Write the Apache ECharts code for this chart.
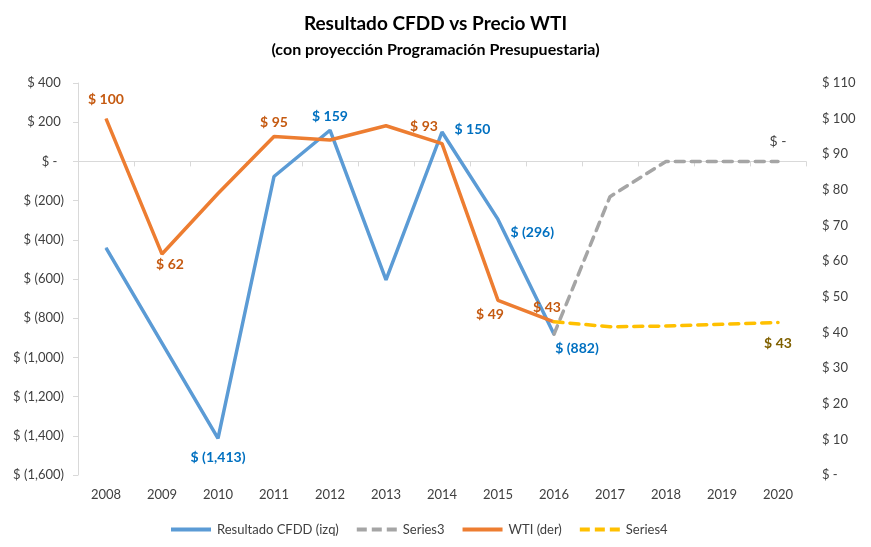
<!DOCTYPE html>
<html><head><meta charset="utf-8">
<script src="https://cdn.jsdelivr.net/npm/echarts@6/dist/echarts.min.js"></script>
<style>html,body{margin:0;padding:0;background:#fff}#c{width:871px;height:547px}</style>
</head><body><div id="c"></div>
<script>
var years = ['2008','2009','2010','2011','2012','2013','2014','2015','2016','2017','2018','2019','2020'];
var resultadoCFDD = [-441, -927, -1413, -77, 159, -604, 150, -296, -882, null, null, null, null];
var series3 = [null, null, null, null, null, null, null, null, -882, -180, 0, 0, 0];
var wti = [100, 62, 79, 95, 94, 98, 93, 49, 43, null, null, null, null];
var series4 = [null, null, null, null, null, null, null, null, 43, 41.6, 41.8, 42.3, 42.8];
var leftTicks = {min: -1600, max: 400, interval: 200};
var rightTicks = {min: 0, max: 110, interval: 10};

var FONT = 'Lato';
function fmtNum(v) { return Math.abs(Math.round(v)).toString().replace(/\B(?=(\d{3})+(?!\d))/g, ','); }
function acct(v) {
  if (v === 0) return '$ -  ';
  return v < 0 ? '$ (' + fmtNum(v) + ')' : '$ ' + fmtNum(v) + ' ';
}
function acctR(v) { return v === 0 ? '$ -' : '$ ' + v; }
function lbl(v) { if (v === 0) return '$ -'; return v < 0 ? '$ (' + fmtNum(v) + ')' : '$ ' + fmtNum(v); }

// label placement (style only)
var blueLabels = {2: {position: 'bottom', distance: 12}, 4: {position: 'top', distance: 6}, 6: {position: 'right', distance: 12, offset: [0, -3]}, 7: {position: 'right', distance: 12, offset: [0, 13]}, 8: {position: 'bottom', distance: 7, offset: [23, 0]}};
var orangeLabels = {0: {position: 'top', distance: 12}, 1: {position: 'bottom', distance: 3, offset: [8, 0]}, 3: {position: 'top', distance: 6}, 6: {position: 'top', distance: 10, offset: [-18, 0]}, 7: {position: 'bottom', distance: 7, offset: [-8, 0]}, 8: {position: 'top', distance: 7, offset: [-7, 0]}};
var greyLabels = {12: {position: 'top', distance: 12, fontWeight: 'normal'}};
var yellowLabels = {12: {position: 'bottom', distance: 14}};

function build(vals, labels, color) {
  return vals.map(function (v, i) {
    var l = labels[i];
    if (!l || v === null) return v;
    return {value: v, label: Object.assign({show: true, color: color, fontWeight: 'bold', fontSize: 14, fontFamily: FONT, formatter: function (p) { return lbl(p.value); }}, l)};
  });
}

var solidIcon = 'path://M0,0h40v4h-40z';
var dashIcon = 'path://M0,0h10v4h-10z M15,0h10v4h-10z M30,0h10v4h-10z';

var chart = echarts.init(document.getElementById('c'));
chart.setOption({
  animation: false,
  backgroundColor: '#fff',
  title: [
    {text: 'Resultado CFDD vs Precio WTI', left: 'center', top: 9, textStyle: {fontFamily: FONT, fontSize: 19, fontWeight: 'bold', color: '#000'}},
    {text: '(con proyección Programación Presupuestaria)', left: 'center', top: 37, textStyle: {fontFamily: FONT, fontSize: 16, fontWeight: 'bold', color: '#000'}}
  ],
  grid: {left: 78, right: 65, top: 83, bottom: 72},
  legend: {
    left: 166, bottom: 6, itemWidth: 42, itemHeight: 4, itemGap: 18,
    textStyle: {fontFamily: FONT, fontSize: 13, color: '#404040'},
    data: [
      {name: 'Resultado CFDD (izq)', icon: solidIcon},
      {name: 'Series3', icon: dashIcon},
      {name: 'WTI (der)', icon: solidIcon},
      {name: 'Series4', icon: dashIcon}
    ]
  },
  xAxis: [
    {type: 'category', data: years, boundaryGap: true, position: 'bottom',
     axisLine: {onZero: true, onZeroAxisIndex: 0, lineStyle: {color: '#D9D9D9', width: 1}},
     axisTick: {show: true, length: 5, lineStyle: {color: '#D9D9D9'}},
     axisLabel: {show: false}},
    {type: 'category', data: years, boundaryGap: true, position: 'bottom', offset: 0,
     axisLine: {show: false}, axisTick: {show: false},
     axisLabel: {show: true, margin: 13, fontFamily: FONT, fontSize: 13, color: '#404040'}}
  ],
  yAxis: [
    {type: 'value', min: leftTicks.min, max: leftTicks.max, interval: leftTicks.interval, position: 'left',
     axisLine: {show: true, lineStyle: {color: '#D9D9D9'}},
     axisTick: {show: true, length: 5, lineStyle: {color: '#D9D9D9'}},
     splitLine: {show: false},
     axisLabel: {formatter: acct, margin: 14, fontFamily: FONT, fontSize: 13, color: '#404040'}},
    {type: 'value', min: rightTicks.min, max: rightTicks.max, interval: rightTicks.interval, position: 'right',
     axisLine: {show: false}, axisTick: {show: false}, splitLine: {show: false},
     axisLabel: {formatter: acctR, margin: 16, fontFamily: FONT, fontSize: 13, color: '#404040'}}
  ],
  series: [
    {name: 'Resultado CFDD (izq)', type: 'line', yAxisIndex: 0, xAxisIndex: 0, symbol: 'circle', symbolSize: 1, showAllSymbol: true,
     data: build(resultadoCFDD, blueLabels, '#0070C0'),
     lineStyle: {color: '#5B9BD5', width: 3.5}, itemStyle: {color: '#5B9BD5'}, z: 2},
    {name: 'Series3', type: 'line', yAxisIndex: 0, xAxisIndex: 0, symbol: 'circle', symbolSize: 1, showAllSymbol: true,
     data: build(series3, greyLabels, '#404040'),
     lineStyle: {color: '#A5A5A5', width: 3.5, type: [9, 7], cap: 'round'}, itemStyle: {color: '#A5A5A5'}, z: 2},
    {name: 'WTI (der)', type: 'line', yAxisIndex: 1, xAxisIndex: 0, symbol: 'circle', symbolSize: 1, showAllSymbol: true,
     data: build(wti, orangeLabels, '#C55A11'),
     lineStyle: {color: '#ED7D31', width: 3.5}, itemStyle: {color: '#ED7D31'}, z: 3},
    {name: 'Series4', type: 'line', yAxisIndex: 1, xAxisIndex: 0, symbol: 'circle', symbolSize: 1, showAllSymbol: true,
     data: build(series4, yellowLabels, '#7F6000'),
     lineStyle: {color: '#FFC000', width: 3.5, type: [9, 7], cap: 'round'}, itemStyle: {color: '#FFC000'}, z: 3}
  ]
});
</script></body></html>
